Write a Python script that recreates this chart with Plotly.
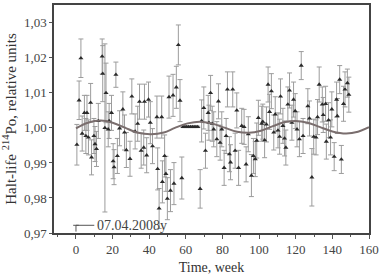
import plotly.graph_objects as go

# Measured data: week, relative half-life, error
weeks = [0.5, 1.7, 2.7, 3.4, 4.6, 5.4, 6.0, 6.8, 8.0, 8.5, 9.8, 10.4, 11.2, 12.2, 14.3, 14.6, 15.8, 16.4,
         17.6, 18.1, 19.4, 20.3, 20.8, 21.8, 22.6, 23.8, 25.6, 26.5, 27.5, 29.5, 30.5, 32.3, 33.7, 34.7,
         35.6, 37.0, 37.4, 38.6, 39.6, 40.6, 41.8, 44.2, 44.6, 45.4, 46.8, 47.2, 48.4, 49.1, 49.9, 50.8,
         51.6, 53.0, 53.5, 54.8, 55.9, 56.8, 57.8, 58.5, 59.5, 60.5, 61.5, 62.5, 63.5, 64.5, 65.5, 66.5,
         67.8, 68.6, 69.8, 70.7, 72.2, 72.6, 73.5, 74.4, 75.2, 76.9, 77.8, 78.7, 79.6, 80.9, 82.0, 82.7,
         83.8, 84.4, 85.6, 86.9, 87.8, 88.8, 90.5, 91.8, 92.9, 94.1, 95.8, 96.9, 97.9, 98.7, 99.6, 101.4,
         102.0, 103.0, 104.0, 104.9, 105.7, 106.7, 108.0, 108.8, 110.3, 111.2, 111.7, 113.0, 113.9, 114.6,
         115.7, 116.6, 117.9, 118.8, 119.7, 120.7, 122.0, 123.0, 124.0, 126.6, 127.5, 128.8, 129.8, 131.1,
         131.9, 132.8, 134.5, 135.0, 136.3, 136.7, 137.9, 139.0, 139.7, 141.0, 142.3, 142.7, 144.0, 144.9,
         146.1, 146.9, 148.2, 149.0]
values = [0.9952, 1.0079, 1.0199, 0.9984, 1.0043, 0.9977, 1.0043, 0.9973, 1.0072, 0.9916, 0.9977, 0.9954,
          0.9940, 1.0020, 1.0204, 1.0155, 1.0000, 1.0100, 0.9996, 1.0020, 1.0043, 0.9905, 0.9888, 1.0152,
          0.9920, 0.9999, 1.0053, 0.9987, 0.9937, 0.9912, 1.0090, 0.9990, 1.0012, 1.0075, 0.9935, 0.9944,
          1.0075, 0.9922, 1.0081, 1.0015, 0.9948, 1.0031, 0.9883, 0.9770, 1.0031, 0.9846, 0.9920, 0.9869,
          0.9798, 1.0088, 0.9821, 1.0093, 0.9841, 1.0116, 1.0237, 1.0078, 0.9857, 1.0003, 1.0003, 1.0003,
          1.0003, 1.0003, 1.0003, 1.0003, 1.0003, 1.0003, 0.9826, 1.0020, 1.0057, 0.9935, 1.0043, 1.0015,
          1.0100, 1.0012, 0.9996, 0.9968, 1.0076, 0.9958, 0.9996, 0.9886, 0.9977, 1.0110, 0.9925, 0.9902,
          1.0110, 0.9935, 1.0050, 0.9886, 1.0006, 1.0003, 0.9896, 0.9982, 0.9864, 0.9920, 0.9911, 0.9964,
          1.0029, 1.0012, 1.0018, 0.9965, 1.0010, 1.0124, 1.0046, 1.0105, 0.9987, 1.0039, 0.9993, 0.9975,
          1.0090, 1.0006, 0.9970, 0.9944, 1.0067, 1.0107, 1.0015, 1.0081, 1.0048, 0.9996, 0.9968, 1.0178,
          0.9977, 1.0062, 1.0027, 0.9859, 0.9975, 0.9973, 1.0031, 1.0124, 1.0067, 1.0037, 1.0069, 0.9961,
          1.0022, 0.9973, 1.0053, 0.9918, 1.0081, 1.0034, 1.0138, 0.9910, 1.0069, 1.0110, 1.0128, 1.0095]
errors = [0.0058, 0.0055, 0.0055, 0.005, 0.005, 0.005, 0.005, 0.005, 0.0055, 0.005, 0.005, 0.005,
          0.005, 0.005, 0.005, 0.008, 0.024, 0.0085, 0.005, 0.005, 0.005, 0.005, 0.005, 0.0036,
          0.005, 0.005, 0.005, 0.005, 0.005, 0.005, 0.005, 0.005, 0.005, 0.005, 0.005, 0.005,
          0.005, 0.005, 0.005, 0.006, 0.005, 0.006, 0.006, 0.0057, 0.006, 0.006, 0.006, 0.005,
          0.006, 0.006, 0.006, 0.006, 0.006, 0.006, 0.0057, 0.006, 0.006, 0.0002, 0.0002, 0.0002,
          0.0002, 0.0002, 0.0002, 0.0002, 0.0002, 0.0002, 0.0055, 0.006, 0.006, 0.005, 0.005, 0.005,
          0.005, 0.005, 0.005, 0.005, 0.005, 0.005, 0.005, 0.005, 0.005, 0.005, 0.005, 0.005,
          0.005, 0.005, 0.005, 0.005, 0.005, 0.005, 0.005, 0.005, 0.006, 0.005, 0.005, 0.005,
          0.005, 0.005, 0.005, 0.005, 0.005, 0.005, 0.005, 0.005, 0.005, 0.005, 0.005, 0.005,
          0.005, 0.005, 0.005, 0.005, 0.005, 0.005, 0.005, 0.005, 0.005, 0.005, 0.005, 0.004,
          0.005, 0.005, 0.005, 0.0082, 0.005, 0.005, 0.005, 0.005, 0.005, 0.005, 0.005, 0.005,
          0.005, 0.005, 0.005, 0.004, 0.005, 0.005, 0.004, 0.004, 0.005, 0.005, 0.004, 0.005]

# Fitted annual curve
fit_weeks = [0, 6.5, 13.5, 20, 27, 34, 41, 48, 54, 61, 67.5, 74, 81, 88, 94.5, 101, 107.5, 113.5,
             120, 126.5, 133, 140, 147.5, 154, 160]
fit_values = [0.9999, 1.0015, 1.0021, 1.0015, 1.0000, 0.9986, 0.9982, 0.9987, 1.0000, 1.0013, 1.0018,
              1.0013, 1.0001, 0.9989, 0.9986, 0.9992, 1.0005, 1.0016, 1.0020, 1.0015, 1.0003, 0.9990,
              0.9984, 0.9989, 1.0002]

x_ticks = [0, 20, 40, 60, 80, 100, 120, 140, 160]
y_ticks = [0.97, 0.98, 0.99, 1.00, 1.01, 1.02, 1.03]
y_tick_labels = ["0,97", "0,98", "0,99", "1,00", "1,01", "1,02", "1,03"]

start_week = [0]
start_value = [0.9722]
start_label = "07.04.2008y"

FONT = "Liberation Serif, Times New Roman, serif"

fig = go.Figure()

fig.add_trace(go.Scatter(
    x=weeks, y=values, mode="markers",
    marker=dict(symbol="triangle-up", size=4.5, color="#2a2a2a"),
    error_y=dict(type="data", array=errors, visible=True, color="#9c9c9c", thickness=1, width=2.5),
    showlegend=False, hoverinfo="skip",
))

fig.add_trace(go.Scatter(
    x=fit_weeks, y=fit_values, mode="lines", line=dict(color="#7a6e6e", width=2, shape="spline"),
    showlegend=False, hoverinfo="skip",
))

# start-date marker: short vertical tick with a cap, plus leader line to the label
fig.add_trace(go.Scatter(
    x=start_week, y=start_value, mode="markers",
    marker=dict(symbol="line-ew", size=4, line=dict(color="#555", width=1)),
    error_y=dict(type="data", symmetric=False, array=[0.0], arrayminus=[0.0018], visible=True,
                 color="#555", thickness=1, width=0),
    showlegend=False, hoverinfo="skip",
))
fig.add_shape(type="line", x0=start_week[0], x1=10, y0=start_value[0], y1=start_value[0],
              line=dict(color="#555", width=1), xref="x", yref="y")
fig.add_annotation(x=10.3, y=start_value[0], text=start_label, showarrow=False, xanchor="left",
                   yanchor="middle", font=dict(family=FONT, size=14, color="#444"))

fig.update_layout(
    width=382, height=277,
    margin=dict(l=54, r=12, t=3, b=44),
    paper_bgcolor="white", plot_bgcolor="white",
    font=dict(family=FONT, size=13, color="#333"),
)
fig.update_xaxes(
    range=[-12, 160], tickvals=x_ticks, ticks="outside", ticklen=4, tickcolor="#555",
    minor=dict(dtick=10, tick0=0, ticks="outside", ticklen=2, tickcolor="#555"),
    showline=True, linecolor="#444", linewidth=1.5, mirror=True, showgrid=False, zeroline=False,
    title=dict(text="Time, week", font=dict(family=FONT, size=14, color="#333"), standoff=6),
    tickfont=dict(family=FONT, size=13, color="#444"),
)
fig.update_yaxes(
    range=[0.97, 1.0351], tickvals=y_ticks, ticktext=y_tick_labels, ticks="outside", ticklen=3,
    tickcolor="#555",
    showline=True, linecolor="#444", linewidth=1.5, mirror=True, showgrid=False, zeroline=False,
    title=dict(text="Halt-life <sup>214</sup>Po, relative units",
               font=dict(family=FONT, size=15, color="#333"), standoff=4),
    tickfont=dict(family=FONT, size=13, color="#444"),
)

fig.write_html("out.html", config={"displayModeBar": False},
               post_script="document.body.style.margin='0';")
